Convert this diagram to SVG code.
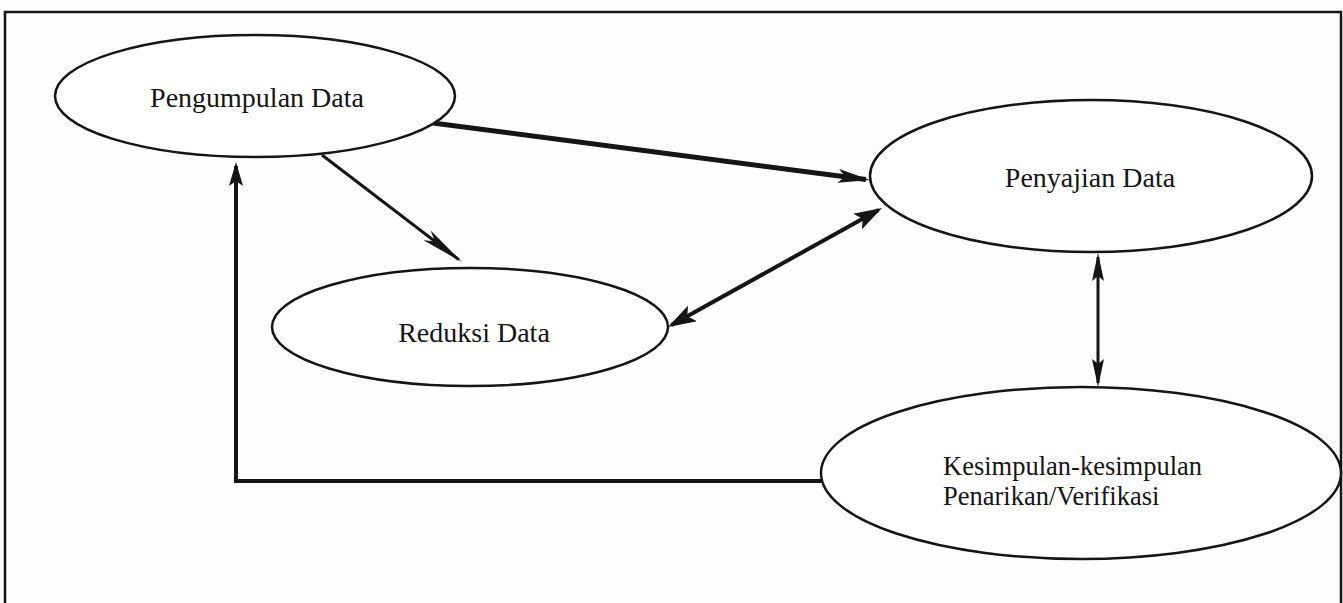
<svg xmlns="http://www.w3.org/2000/svg" width="1343" height="603" viewBox="0 0 1343 603">
<style>
.node ellipse{fill:#ffffff;stroke:#151515;stroke-width:2.5}
.lbl{font-family:"Liberation Serif","Times New Roman",serif;font-size:28px;fill:#151515}
.sm{font-size:26.5px}
.mid{text-anchor:middle}
.conn{fill:none;stroke:#151515;stroke-linecap:butt;stroke-linejoin:miter}
</style>
<defs>
<marker id="headA" markerUnits="userSpaceOnUse" markerWidth="34" markerHeight="14" refX="28" refY="7" orient="auto-start-reverse">
<path d="M0,0 L32,7 L0,14 L7,7 Z" fill="#151515"/>
</marker>
<marker id="headB" markerUnits="userSpaceOnUse" markerWidth="44" markerHeight="12" refX="40" refY="6" orient="auto-start-reverse">
<path d="M0,0 L44,6 L0,12 L10,6 Z" fill="#151515"/>
</marker>
<marker id="headC" markerUnits="userSpaceOnUse" markerWidth="28" markerHeight="18" refX="24" refY="9" orient="auto-start-reverse">
<path d="M0,0 L28,9 L0,18 L6,9 Z" fill="#151515"/>
</marker>
<marker id="headD" markerUnits="userSpaceOnUse" markerWidth="28" markerHeight="12" refX="24" refY="6" orient="auto-start-reverse">
<path d="M0,0 L28,6 L0,12 L5,6 Z" fill="#151515"/>
</marker>
<marker id="headE" markerUnits="userSpaceOnUse" markerWidth="24" markerHeight="14" refX="20" refY="7" orient="auto-start-reverse">
<path d="M0,0 L24,7 L0,14 L5,7 Z" fill="#151515"/>
</marker>
</defs>
<rect x="0" y="0" width="1343" height="603" fill="#fdfdfb"/>
<rect id="frame" x="5" y="12" width="1336" height="600" fill="none" stroke="#151515" stroke-width="2.5"/>
<g id="connectors">
<line class="conn" x1="433" y1="123" x2="866" y2="179.5" stroke-width="5" marker-end="url(#headA)"/>
<line class="conn" x1="322" y1="155" x2="458.8" y2="259.6" stroke-width="3" marker-end="url(#headB)"/>
<line class="conn" x1="671.5" y1="325.1" x2="878.5" y2="209.9" stroke-width="4" marker-start="url(#headC)" marker-end="url(#headC)"/>
<line class="conn" x1="1098" y1="257" x2="1098" y2="383" stroke-width="3" marker-start="url(#headD)" marker-end="url(#headD)"/>
<polyline class="conn" points="822,481 236,481 236,166" stroke-width="4" marker-end="url(#headE)"/>
</g>
<g id="node-pengumpulan" class="node">
<ellipse cx="255" cy="96" rx="200" ry="61"/>
<text class="lbl mid" x="257" y="107">Pengumpulan Data</text>
</g>
<g id="node-penyajian" class="node">
<ellipse cx="1091" cy="176" rx="221" ry="76"/>
<text class="lbl mid" x="1090" y="187">Penyajian Data</text>
</g>
<g id="node-reduksi" class="node">
<ellipse cx="470" cy="327" rx="198" ry="59"/>
<text class="lbl mid" x="474" y="342">Reduksi Data</text>
</g>
<g id="node-kesimpulan" class="node">
<ellipse cx="1081" cy="473" rx="260" ry="86"/>
<text class="lbl sm" x="943" y="475">Kesimpulan-kesimpulan</text>
<text class="lbl sm" x="943" y="505">Penarikan/Verifikasi</text>
</g>
</svg>
